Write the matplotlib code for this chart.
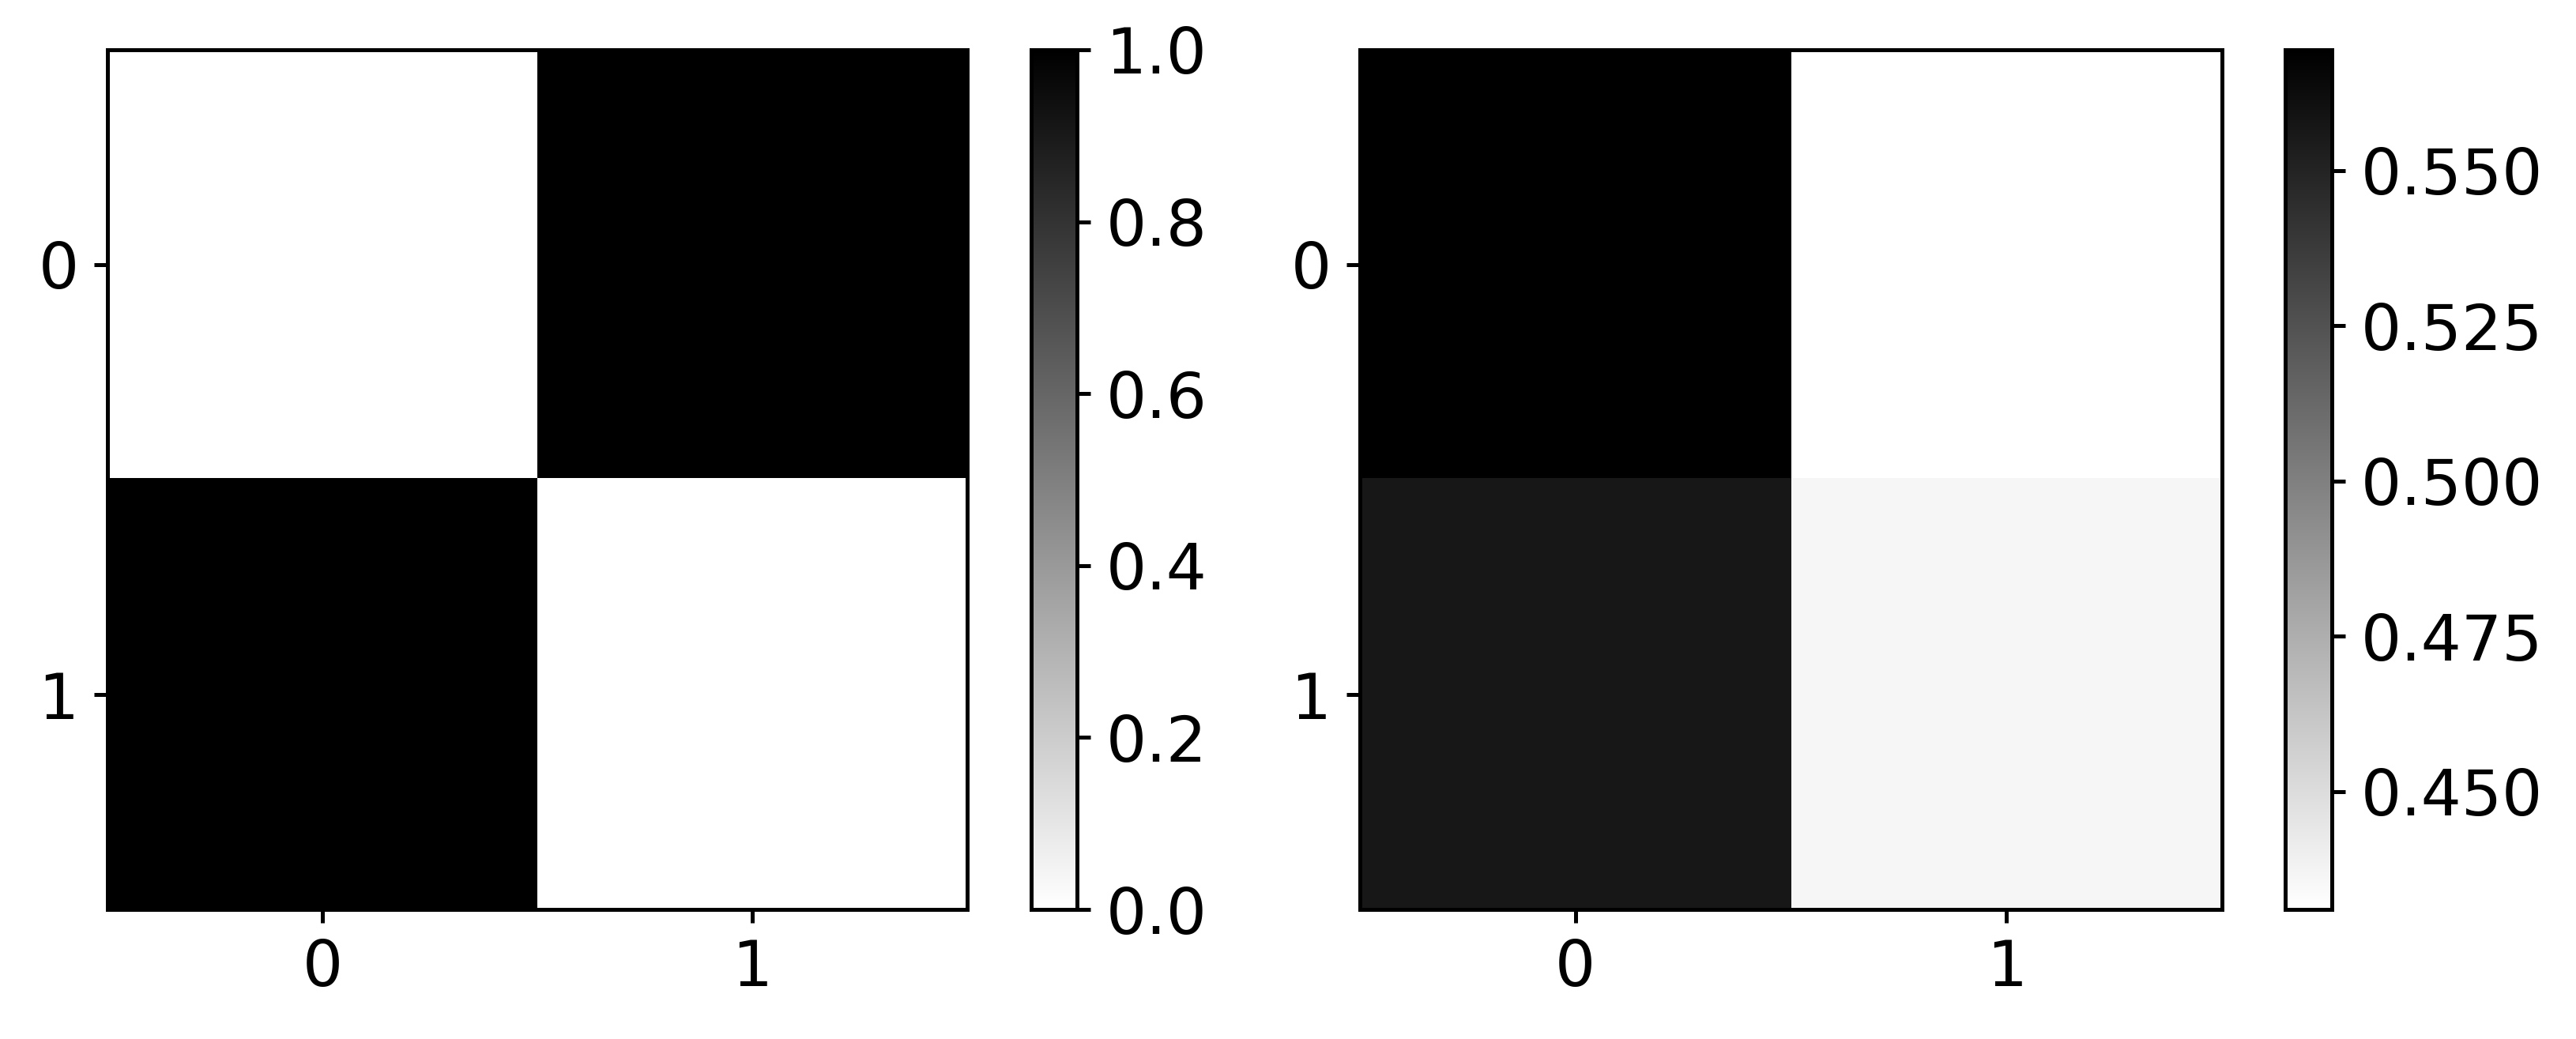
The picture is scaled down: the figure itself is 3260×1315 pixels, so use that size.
import numpy as np
import matplotlib
matplotlib.use("Agg")
import matplotlib.pyplot as plt

# values
labels = [0, 1]
left_matrix = np.array([[0.0, 1.0],
                        [1.0, 0.0]])
right_matrix = np.array([[0.5694, 0.4310],
                         [0.5566, 0.4362]])
right_ticks = [0.450, 0.475, 0.500, 0.525, 0.550]

plt.rcParams['font.size'] = 29
plt.rcParams['axes.linewidth'] = 1.8

fig = plt.figure(figsize=(16.3, 6.575), dpi=200)

ax1 = fig.add_axes([0.0417, 0.1247, 0.3337, 0.8274])
cax1 = fig.add_axes([0.4003, 0.1247, 0.0178, 0.8274])
ax2 = fig.add_axes([0.5279, 0.1247, 0.3347, 0.8274])
cax2 = fig.add_axes([0.8871, 0.1247, 0.0181, 0.8274])

im1 = ax1.imshow(left_matrix, cmap='gray_r', vmin=0, vmax=1)
cb1 = fig.colorbar(im1, cax=cax1)
cb1.set_ticks([0.0, 0.2, 0.4, 0.6, 0.8, 1.0])

im2 = ax2.imshow(right_matrix, cmap='gray_r')
cb2 = fig.colorbar(im2, cax=cax2)
cb2.set_ticks(right_ticks)
cb2.ax.yaxis.set_major_formatter(matplotlib.ticker.FormatStrFormatter('%.3f'))

for ax in (ax1, ax2):
    ax.set_xticks(range(len(labels)))
    ax.set_yticks(range(len(labels)))
    ax.set_xticklabels(labels)
    ax.set_yticklabels(labels)
    ax.set_aspect('auto')

for ax in (ax1, ax2, cax1, cax2):
    ax.tick_params(length=6.1, width=1.8, pad=7)
    for s in ax.spines.values():
        s.set_linewidth(1.8)
cb1.outline.set_linewidth(1.8)
cb2.outline.set_linewidth(1.8)

fig.savefig("out.png", dpi=200)
